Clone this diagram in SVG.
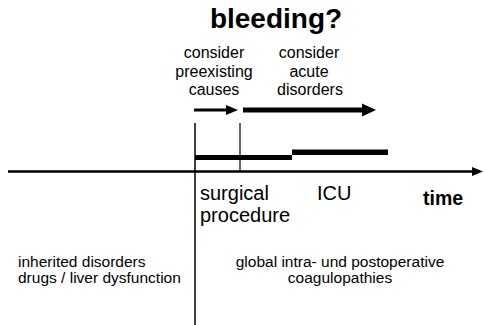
<svg xmlns="http://www.w3.org/2000/svg" width="484" height="325" viewBox="0 0 484 325">
<style>
text{font-family:"Liberation Sans",Arial,sans-serif;fill:#000}
.t16{font-size:16px;text-anchor:middle}
.t20{font-size:20px}
.t15{font-size:15.5px}
.b{font-weight:bold}
.ln{stroke:#000;fill:none}
.hd{fill:#000;stroke:none}
</style>
<rect width="484" height="325" fill="#fff"/>
<g id="title"><text x="276" y="28" font-size="28" class="b" text-anchor="middle">bleeding?</text></g>
<g id="preexisting"><text class="t16" x="214" y="58">consider</text><text class="t16" x="214" y="77">preexisting</text><text class="t16" x="214" y="95">causes</text></g>
<g id="acute"><text class="t16" x="309" y="58">consider</text><text class="t16" x="309" y="77">acute</text><text class="t16" x="310" y="95">disorders</text></g>
<g id="surgical"><text class="t20" x="200" y="200">surgical</text><text class="t20" x="200" y="222">procedure</text></g>
<g id="icu"><text class="t20" x="317" y="200">ICU</text></g>
<g id="time"><text x="423" y="205" font-size="19.5" class="b">time</text></g>
<g id="preop"><text class="t15" x="18" y="267">inherited disorders</text><text class="t15" x="18" y="283">drugs / liver dysfunction</text></g>
<g id="postop"><text class="t15" x="340" y="267" text-anchor="middle">global intra- und postoperative</text><text class="t15" x="340" y="283" text-anchor="middle">coagulopathies</text></g>
<g id="bars"><rect x="195" y="155" width="97" height="5"/><rect x="292" y="149.5" width="96" height="5.5"/></g>
<g id="connectors">
<line class="ln" x1="194" y1="110" x2="228" y2="110" stroke-width="3"/>
<polygon class="hd" points="226,105 238,110 226,115"/>
<line class="ln" x1="243" y1="110" x2="364" y2="110" stroke-width="5"/>
<polygon class="hd" points="362,103.5 376,110 362,116.5"/>
<line class="ln" x1="8" y1="171.5" x2="474" y2="171.5" stroke-width="2.5"/>
<polygon class="hd" points="472,167 483,171.5 472,176"/>
<line class="ln" x1="195" y1="123" x2="195" y2="325" stroke-width="1.5"/>
<line class="ln" x1="240" y1="123" x2="240" y2="171" stroke-width="1.2"/>
</g>
</svg>
